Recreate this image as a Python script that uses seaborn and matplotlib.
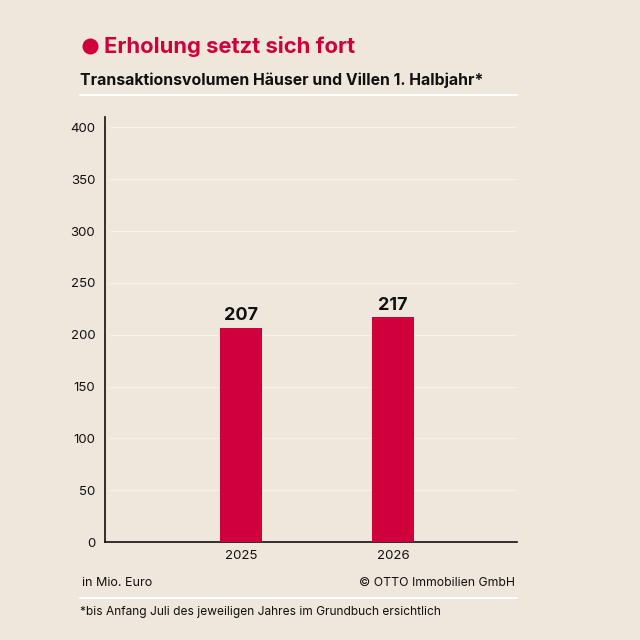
import matplotlib
matplotlib.use("Agg")
import matplotlib.pyplot as plt
import pandas as pd
import seaborn as sns

years = ["2025", "2026"]
volumes = [207, 217]
yticks = [0, 50, 100, 150, 200, 250, 300, 350, 400]

BG = "#efe6dc"
RED = "#d0003c"

sns.set_style("white")
plt.rcParams["font.family"] = ["Inter", "DejaVu Sans"]

df = pd.DataFrame({"year": years, "volume": volumes})

fig = plt.figure(figsize=(6.4, 6.4), dpi=100, facecolor=BG)
ax = fig.add_axes([0.164, 0.153, 0.644, 0.664])
ax.set_facecolor(BG)

sns.barplot(data=df, x="year", y="volume", color=RED, width=0.276,
            saturation=1, linewidth=0, edgecolor="none", ax=ax, zorder=3)

for i, v in enumerate(volumes):
    ax.text(i, v + 3, str(v), ha="center", va="bottom", fontsize=13,
            fontweight="bold", color="#111111")

ax.set_xlim(-0.895, 1.816)
ax.set_ylim(0, 410)
ax.set_yticks(yticks)
ax.set_yticklabels([str(t) for t in yticks])
ax.tick_params(axis="both", length=0, labelsize=9.5, colors="#111111")
ax.tick_params(axis="y", pad=7)
ax.tick_params(axis="x", pad=6)
ax.set_xlabel("")
ax.set_ylabel("")
for t in yticks[1:]:
    ax.axhline(t, xmin=0.012, xmax=1, color="#f7f1ea", lw=1, zorder=1)

for s in ["top", "right"]:
    ax.spines[s].set_visible(False)
ax.spines["left"].set_color("#111111")
ax.spines["bottom"].set_color("#111111")
ax.spines["left"].set_linewidth(1.2)
ax.spines["bottom"].set_linewidth(1.2)

# header
fig.add_artist(plt.Line2D([0.1405], [0.928], marker="o", markersize=11.5,
                          color=RED, markeredgewidth=0))
fig.text(0.162, 0.928, "Erholung setzt sich fort", color=RED, fontsize=15.8,
         fontweight="bold", va="center", ha="left")
fig.text(0.125, 0.875, "Transaktionsvolumen Häuser und Villen 1. Halbjahr*",
         color="#111111", fontsize=11.4, fontweight="bold", va="center", ha="left")
fig.add_artist(plt.Line2D([0.125, 0.808], [0.851, 0.851], color="white", lw=1.5))

# footer
fig.text(0.128, 0.089, "in Mio. Euro", color="#111111", fontsize=9,
         va="center", ha="left")
fig.text(0.804, 0.089, "© OTTO Immobilien GmbH", color="#111111", fontsize=8.8,
         va="center", ha="right")
fig.add_artist(plt.Line2D([0.125, 0.808], [0.066, 0.066], color="white", lw=1.5))
fig.text(0.125, 0.043, "*bis Anfang Juli des jeweiligen Jahres im Grundbuch ersichtlich",
         color="#111111", fontsize=8.6, va="center", ha="left")

fig.savefig("out.png", dpi=100, facecolor=BG)
